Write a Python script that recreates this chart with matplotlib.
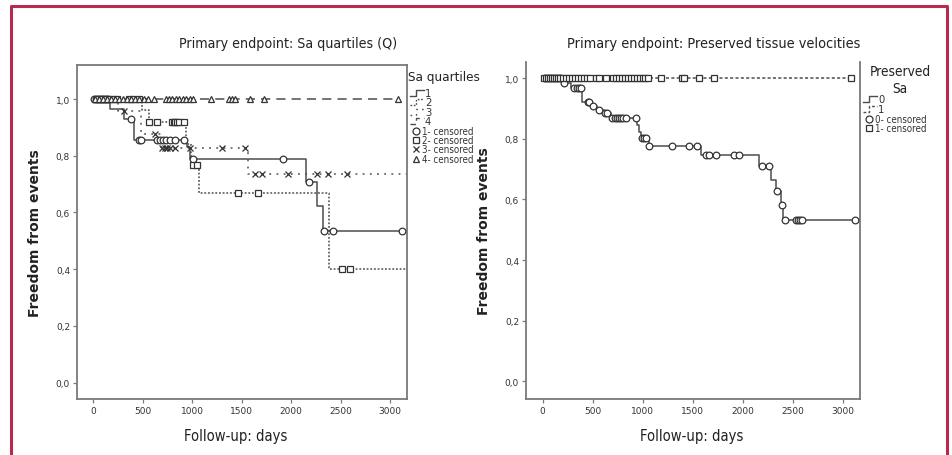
#!/usr/bin/env python3
"""
Kaplan-Meier curves: freedom from events by Sa quartiles / preserved Sa
"""

import numpy as np
import matplotlib
matplotlib.use('Agg')
import matplotlib.pyplot as plt
from matplotlib import font_manager
from matplotlib.lines import Line2D
from matplotlib.ticker import FuncFormatter

W, H = 952, 456

# ---- left panel: Sa quartiles ----
q1_times = [0, 172, 306, 414, 946, 975, 2152, 2266, 2320]
q1_surv = [1.0, 0.965, 0.929, 0.857, 0.83, 0.79, 0.709, 0.624, 0.533]
q1_end = 3118
q1_cens = [10, 30, 50, 70, 90, 110, 130, 150, 381, 458, 485, 643, 670, 700,
           737, 778, 828, 922, 1013, 1916, 2185, 2336, 2421, 3118]

q2_times = [0, 492, 559, 939, 990, 1064, 2387]
q2_surv = [1.0, 0.96, 0.92, 0.84, 0.767, 0.668, 0.40]
q2_end = 3160
q2_cens = [40, 80, 120, 160, 200, 240, 360, 400, 460, 559, 643, 795, 812,
           830, 850, 870, 912, 1013, 1053, 1468, 1670, 2512, 2596]

q3_times = [0, 250, 480, 680, 1569]
q3_surv = [1.0, 0.958, 0.876, 0.829, 0.736]
q3_end = 3170
q3_cens = [313, 626, 694, 720, 745, 778, 828, 980, 1300, 1535, 1636, 1704,
           1973, 2259, 2377, 2562]

q4_times = [0]
q4_surv = [1.0]
q4_end = 3084
q4_cens = [20, 60, 100, 140, 180, 220, 260, 300, 340, 380, 420, 460, 508,
           549, 609, 731, 765, 800, 835, 870, 905, 940, 975, 1010, 1189,
           1367, 1400, 1435, 1586, 1728, 3084]

# ---- right panel: preserved tissue velocities ----
p0_times = [0, 200, 283, 399, 489, 549, 615, 682, 948, 965, 981, 1064, 1581,
            2163, 2279, 2329, 2379, 2405]
p0_surv = [1.0, 0.984, 0.966, 0.922, 0.909, 0.895, 0.884, 0.867, 0.845,
           0.823, 0.803, 0.775, 0.746, 0.710, 0.665, 0.627, 0.583, 0.532]
p0_end = 3120
p0_cens = [20, 50, 80, 110, 140, 170, 216, 316, 340, 360, 382, 455, 465, 500,
           560, 625, 640, 698, 720, 740, 760, 780, 800, 831, 931, 990, 1010,
           1030, 1065, 1297, 1464, 1547, 1631, 1664, 1731, 1914, 1964, 2189,
           2262, 2340, 2392, 2422, 2529, 2550, 2570, 2595, 3120]

p1_times = [0]
p1_surv = [1.0]
p1_end = 3084
p1_cens = [10, 30, 50, 70, 90, 110, 130, 150, 170, 200, 230, 260, 290, 320,
           350, 380, 410, 440, 470, 532, 560, 632, 702, 730, 760, 790, 820,
           850, 880, 910, 940, 970, 1000, 1025, 1052, 1180, 1390, 1414, 1560,
           1711, 3084]

x_ticks = [0, 500, 1000, 1500, 2000, 2500, 3000]
y_ticks = [0.0, 0.2, 0.4, 0.6, 0.8, 1.0]

LINE = '#4d4d4d'
SPINE = '#7a7a7a'
BORDER = '#b8294e'

# pick a narrow face if one is installed
fonts = font_manager.fontManager.ttflist
names = {f.name for f in fonts}
if 'Liberation Sans Narrow' in names:
    TXT = dict(family='Liberation Sans Narrow')
elif any(f.name == 'DejaVu Sans' and f.stretch == 'condensed' for f in fonts):
    TXT = dict(family='DejaVu Sans', stretch='condensed')
else:
    TXT = dict(family='Liberation Sans')


def fx(x, y):
    """pixel -> figure fraction"""
    return x / W, 1 - y / H


def surv_at(times, surv, t):
    idx = np.searchsorted(times, t, side='right') - 1
    return np.array(surv)[idx]


def km(ax, times, surv, end, cens, ls, marker, ms):
    xs = list(times) + [end]
    ys = list(surv) + [surv[-1]]
    ax.step(xs, ys, where='post', color=LINE, lw=1.1, linestyle=ls, zorder=2)
    ax.plot(cens, surv_at(times, surv, cens), linestyle='none', marker=marker,
            ms=ms, mfc='white', mec='#333333', mew=0.9, zorder=3)


def style_axes(ax, top):
    ax.set_xlim(-165, 3172)
    ax.set_ylim(-0.058, top)
    ax.set_xticks(x_ticks)
    ax.set_yticks(y_ticks)
    ax.yaxis.set_major_formatter(FuncFormatter(lambda v, p: f'{v:.1f}'.replace('.', ',')))
    ax.tick_params(labelsize=6.5, colors=SPINE, labelcolor='#333333',
                   length=3, width=0.9, pad=2)
    for s in ax.spines.values():
        s.set_color(SPINE)
        s.set_linewidth(1.3)
    ax.set_ylabel('Freedom from events', fontsize=10, fontweight='bold',
                  family='DejaVu Sans', color='#222222', labelpad=10)


fig = plt.figure(figsize=(W / 100, H / 100), dpi=100)

ax1 = fig.add_axes([77 / W, 1 - 400 / H, 330 / W, 334 / H])
km(ax1, q1_times, q1_surv, q1_end, q1_cens, '-', 'o', 4.8)
km(ax1, q2_times, q2_surv, q2_end, q2_cens, (0, (1.2, 1.2)), 's', 4.8)
km(ax1, q3_times, q3_surv, q3_end, q3_cens, (0, (1.2, 3.5)), 'x', 3.8)
km(ax1, q4_times, q4_surv, q4_end, q4_cens, (0, (6, 4)), '^', 3.8)
style_axes(ax1, 1.12)

ax2 = fig.add_axes([526 / W, 1 - 400 / H, 334 / W, 337 / H])
km(ax2, p0_times, p0_surv, p0_end, p0_cens, '-', 'o', 4.8)
km(ax2, p1_times, p1_surv, p1_end, p1_cens, (0, (2, 1.5)), 's', 4.8)
style_axes(ax2, 1.053)
ax2.spines['top'].set_visible(False)

# titles and x labels placed like the SPSS export
fig.text(*fx(288, 44), 'Primary endpoint: Sa quartiles (Q)', fontsize=10.2,
         ha='center', va='center', color='#222222', **TXT)
fig.text(*fx(714, 44), 'Primary endpoint: Preserved tissue velocities',
         fontsize=10.4, ha='center', va='center', color='#222222', **TXT)
fig.text(*fx(236, 437), 'Follow-up: days', fontsize=10.6, ha='center',
         va='center', color='#222222', **TXT)
fig.text(*fx(692, 437), 'Follow-up: days', fontsize=10.6, ha='center',
         va='center', color='#222222', **TXT)


def step_glyph(x, y, ls):
    xs = [x, x + 6, x + 6, x + 14]
    ys = [y + 3, y + 3, y - 3, y - 3]
    pts = [fx(a, b) for a, b in zip(xs, ys)]
    fig.add_artist(Line2D([p[0] for p in pts], [p[1] for p in pts],
                          color=LINE, lw=1.0, linestyle=ls))


def legend(x, rows_lines, rows_marks, y0, dy):
    y = y0
    for lab, ls in rows_lines:
        step_glyph(x, y, ls)
        fig.text(*fx(x + 15, y), lab, fontsize=8, va='center',
                 color='#333333', **TXT)
        y += dy
    for lab, mk in rows_marks:
        fig.add_artist(Line2D([fx(x + 6, y)[0]], [fx(x + 6, y)[1]], marker=mk,
                              ms=5, mfc='white', mec='#333333', mew=0.9,
                              linestyle='none'))
        fig.text(*fx(x + 12, y), lab, fontsize=7, va='center',
                 color='#333333', **TXT)
        y += dy


fig.text(*fx(408, 78), 'Sa quartiles', fontsize=9.6, va='center',
         color='#222222', **TXT)
legend(410,
       [('1', '-'), ('2', (0, (1.2, 1.2))), ('3', (0, (1.2, 3))), ('4', (0, (4, 3)))],
       [('1- censored', 'o'), ('2- censored', 's'), ('3- censored', 'x'),
        ('4- censored', '^')],
       94, 9.4)

fig.text(*fx(900, 72), 'Preserved', fontsize=9.8, va='center', ha='center',
         color='#222222', **TXT)
fig.text(*fx(900, 89), 'Sa', fontsize=9.8, va='center', ha='center',
         color='#222222', **TXT)
legend(863,
       [('0', '-'), ('1', (0, (2, 1.5)))],
       [('0- censored', 'o'), ('1- censored', 's')],
       100, 9.8)

# outer frame
bx = [fx(11, 470), fx(11, 7), fx(947, 7), fx(947, 470)]
fig.add_artist(Line2D([p[0] for p in bx], [p[1] for p in bx], color=BORDER, lw=2.2))

fig.savefig('out.png', dpi=100)
